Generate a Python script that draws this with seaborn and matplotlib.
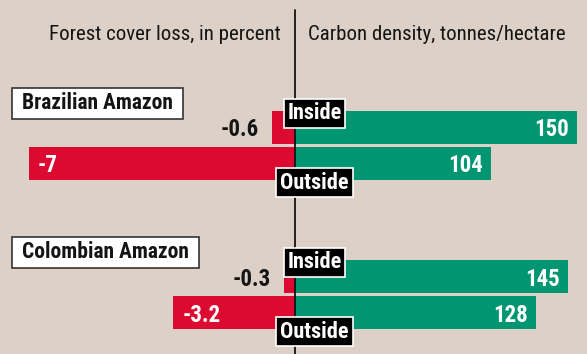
import matplotlib
matplotlib.use("Agg")
import matplotlib.pyplot as plt
import matplotlib.transforms as mtransforms
from matplotlib import font_manager as fm
from matplotlib.lines import Line2D
import pandas as pd
import seaborn as sns

# ---- data ----
regions = ["Brazilian Amazon", "Colombian Amazon"]
locations = ["Inside", "Outside"]
brazil_loss = [-0.6, -7.0]          # forest cover loss, percent
colombia_loss = [-0.3, -3.2]
brazil_carbon = [150, 104]          # carbon density, tonnes/hectare
colombia_carbon = [145, 128]

loss_by_region = [brazil_loss, colombia_loss]
carbon_by_region = [brazil_carbon, colombia_carbon]

# ---- style ----
sns.set_style("white")


def condensed_font():
    """Find a narrow sans face among the installed fonts."""
    entries = fm.fontManager.ttflist
    names = {e.name for e in entries}
    for fam in ["Roboto Condensed", "Liberation Sans Narrow", "Noto Sans Condensed",
                "Open Sans Condensed", "DejaVu Sans Condensed", "Arial Narrow"]:
        if fam in names:
            return fam, "normal", "found"
    narrow = ("condensed", "semi-condensed", "extra-condensed", "ultra-condensed")
    for fam in ["Roboto", "Noto Sans", "Open Sans", "DejaVu Sans", "Liberation Sans"]:
        for e in entries:
            if e.name == fam and str(e.stretch) in narrow:
                return fam, "condensed", "found"
    return "Roboto", "normal", "fallback"


FONT, STRETCH, KIND = condensed_font()
plt.rcParams["font.family"] = [FONT, "DejaVu Sans"]
plt.rcParams["font.stretch"] = STRETCH
SHRINK = 1.0 if KIND == "found" else 0.93

BG = "#dcd0c7"
RED = "#dc0a30"
GREEN = "#009671"
INK = "#141414"

W, H = 587, 354
fig = plt.figure(figsize=(W / 100, H / 100), dpi=100, facecolor=BG)

split = 295          # pixel column of the zero line
bar_w = 0.92
left_scale = 38.0    # pixels per percentage point
right_scale = 1.88   # pixels per tonne/hectare
region_top = [109.5, 258.5]   # pixel row where each region's bar block starts
block_h = 72

VAL_FS = 16.5 * SHRINK
TAG_FS = 16 * SHRINK
NAME_FS = 15.5 * SHRINK
HEAD_FS = 15 * SHRINK


def fig_box(x0, y0, w, h):
    return [x0 / W, 1 - (y0 + h) / H, w / W, h / H]


def fmt(v):
    return f"{v:g}"


def px(dx, dy):
    return mtransforms.ScaledTranslation(dx / 100, dy / 100, fig.dpi_scale_trans)


for region, loss, carbon, top in zip(regions, loss_by_region, carbon_by_region, region_top):
    df = pd.DataFrame({"location": locations, "loss": loss, "carbon": carbon})

    ax_l = fig.add_axes(fig_box(0, top, split, block_h))
    ax_r = fig.add_axes(fig_box(split, top, W - split, block_h))

    sns.barplot(data=df, x="loss", y="location", order=locations, ax=ax_l,
                color=RED, saturation=1, width=bar_w, errorbar=None, orient="h")
    sns.barplot(data=df, x="carbon", y="location", order=locations, ax=ax_r,
                color=GREEN, saturation=1, width=bar_w, errorbar=None, orient="h")

    ax_l.set_xlim(-split / left_scale, 0)
    ax_r.set_xlim(0, (W - split) / right_scale)
    for ax in (ax_l, ax_r):
        ax.set_ylim(1.5, -0.5)
        ax.set_facecolor("none")
        ax.set_axis_off()
        for p in ax.patches:
            p.set_edgecolor("none")
            p.set_linewidth(0)

    # value labels
    for i, v in enumerate(loss):
        if abs(v) > 2:
            ax_l.annotate(fmt(v), xy=(v, i), xytext=(9, 0), textcoords="offset pixels",
                          ha="left", va="center_baseline", color="white",
                          fontsize=VAL_FS, fontweight="bold")
        else:
            ax_l.annotate(fmt(v), xy=(v, i), xytext=(-13, 0), textcoords="offset pixels",
                          ha="right", va="center_baseline", color=INK,
                          fontsize=VAL_FS, fontweight="bold")
    for i, v in enumerate(carbon):
        ax_r.annotate(fmt(v), xy=(v, i), xytext=(-8, 0), textcoords="offset pixels",
                      ha="right", va="center_baseline", color="white",
                      fontsize=VAL_FS, fontweight="bold")

    # Inside / Outside tags straddling the zero line
    tag_y = {"Inside": -bar_w / 2, "Outside": 1 + bar_w / 2}
    for loc in locations:
        fig.text(0, tag_y[loc], loc, transform=ax_r.transData + px(19.5, 0),
                 ha="center", va="center_baseline", color="white",
                 fontsize=TAG_FS, fontweight="bold", zorder=3,
                 bbox=dict(boxstyle="square,pad=0.17", fc="black", ec="white", lw=1.2))

    # region name box (spaces widen the side padding)
    trans = mtransforms.blended_transform_factory(fig.transFigure, ax_l.transData)
    fig.text(17 / W, -bar_w / 2, f" {region} ", transform=trans + px(0, 10),
             ha="left", va="center_baseline", color=INK,
             fontsize=NAME_FS, fontweight="bold", zorder=3,
             bbox=dict(boxstyle="square,pad=0.22", fc="white", ec="#333333", lw=1.2))

# zero line across the whole chart
fig.add_artist(Line2D([split / W, split / W], [0, 1 - 10 / H],
                      transform=fig.transFigure, color=INK, lw=1.3, zorder=2))

# column headers
fig.text(281 / W, 1 - 33 / H, "Forest cover loss, in percent",
         ha="right", va="center_baseline", color=INK, fontsize=HEAD_FS)
fig.text(308 / W, 1 - 33 / H, "Carbon density, tonnes/hectare",
         ha="left", va="center_baseline", color=INK, fontsize=HEAD_FS)

fig.savefig("out.png", dpi=100, facecolor=BG)
